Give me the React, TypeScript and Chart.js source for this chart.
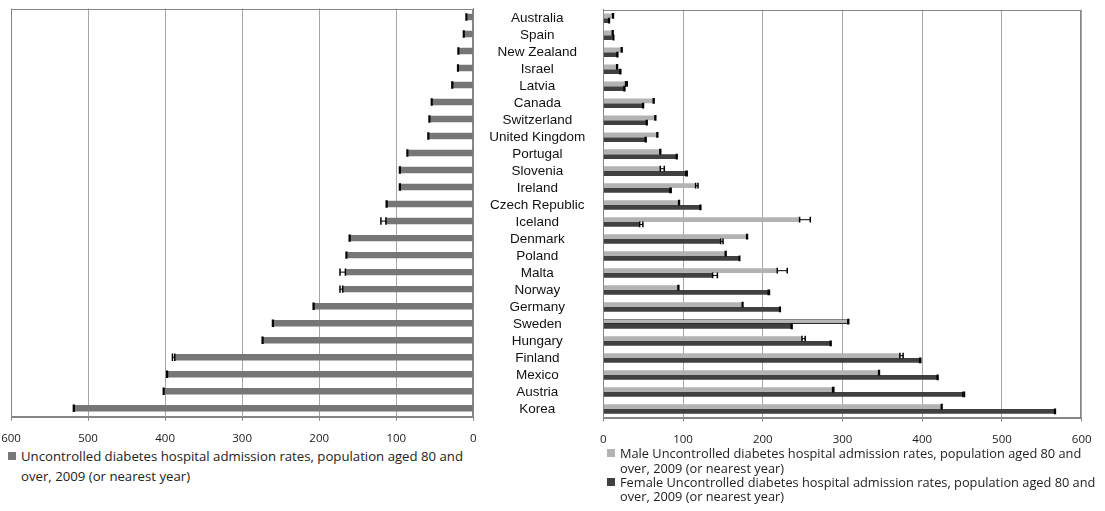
import React, { useEffect, useRef } from "react";
import { Chart, registerables } from "chart.js";

Chart.register(...registerables);

// Countries, top to bottom
const countries = [
  "Australia", "Spain", "New Zealand", "Israel", "Latvia", "Canada", "Switzerland",
  "United Kingdom", "Portugal", "Slovenia", "Ireland", "Czech Republic", "Iceland",
  "Denmark", "Poland", "Malta", "Norway", "Germany", "Sweden", "Hungary", "Finland",
  "Mexico", "Austria", "Korea",
];

// Admission rates per 100 000 population aged 80 and over
const totalRates = [
  8.6, 12, 19, 19.5, 26.8, 53.6, 56.6, 58, 85.2, 94.8, 94.8, 112, 113.4,
  160, 164.3, 166, 169.5, 206.8, 259.6, 273, 387.5, 397, 401.5, 518,
];
const totalErr = [
  0.8, 0.8, 0.8, 0.8, 1, 0.8, 0.8, 0.8, 0.8, 1, 1, 1, 6.5,
  1, 0.8, 7, 3.5, 1, 1, 1, 3, 1, 0.8, 1,
];

const maleRates = [
  11.7, 11.3, 22.6, 16.8, 28, 62.7, 64.8, 67.3, 71, 71.5, 115.8, 94.5, 246.2,
  179.8, 153, 218.2, 93.7, 174.3, 306.8, 249.2, 372, 345.3, 287.6, 423.9,
];
const maleErr = [
  1, 1, 1, 1, 2, 1, 1, 1, 1, 5, 3, 1, 13.4,
  1, 1, 12.5, 1, 0.8, 1, 4, 4, 1, 1.5, 1,
];

const femaleRates = [
  6.7, 12.6, 17.2, 20.9, 26, 49.4, 54, 52.7, 91.6, 103.7, 83.6, 121.3, 45.6,
  147.2, 170.6, 137.1, 206.9, 221.2, 235.8, 284.7, 396.7, 418.8, 451, 566,
];
const femaleErr = [
  1, 0.5, 1, 1, 1, 1, 1, 1, 1, 1.5, 1.5, 1, 4,
  3, 0.5, 6, 1.5, 0.8, 1, 1, 1.5, 1, 2, 1,
];

const axisMin = 0;
const axisMax = 600;
const axisStep = 100;

const legendLines = {
  total: ["Uncontrolled diabetes hospital admission rates, population aged 80 and", "over, 2009 (or nearest year)"],
  male: ["Male Uncontrolled diabetes hospital admission rates, population aged 80 and", "over, 2009 (or nearest year)"],
  female: ["Female Uncontrolled diabetes hospital admission rates, population aged 80 and", "over, 2009 (or nearest year)"],
};

const GRID = "#a6a6a6";
const AXIS = "#868686";
const TOTAL_COLOR = "#767676";
const MALE_COLOR = "#b3b3b3";
const FEMALE_COLOR = "#404040";
const TICK_FONT = { family: "'Open Sans'", size: 11.5 };
const LEGEND_FONT = "'Open Sans', sans-serif";

// Plus-direction error bars drawn from each dataset's errPlus array
const errorBarPlugin = {
  id: "errorBars",
  afterDatasetsDraw(chart: any) {
    const ctx = chart.ctx;
    const xScale = chart.scales.x;
    chart.data.datasets.forEach((ds: any, di: number) => {
      const errs: number[] | undefined = ds.errPlus;
      if (!errs) return;
      const meta = chart.getDatasetMeta(di);
      meta.data.forEach((bar: any, i: number) => {
        const v = ds.data[i] as number;
        const x0 = xScale.getPixelForValue(v);
        const x1 = xScale.getPixelForValue(v + errs[i]);
        const y = bar.y;
        const h = bar.height / 2 + 0.5;
        ctx.save();
        ctx.strokeStyle = "#000";
        ctx.lineWidth = 1;
        ctx.beginPath();
        ctx.moveTo(x0, y);
        ctx.lineTo(x1, y);
        ctx.stroke();
        ctx.lineWidth = 1.5;
        ctx.beginPath();
        ctx.moveTo(x0, y - h);
        ctx.lineTo(x0, y + h);
        ctx.moveTo(x1, y - h);
        ctx.lineTo(x1, y + h);
        ctx.stroke();
        ctx.restore();
      });
    });
  },
};

// Outline around the plot area
const framePlugin = {
  id: "frame",
  beforeDatasetsDraw(chart: any) {
    const { left, right, top, bottom } = chart.chartArea;
    const ctx = chart.ctx;
    ctx.save();
    ctx.strokeStyle = AXIS;
    ctx.lineWidth = 1;
    ctx.strokeRect(Math.round(left) + 0.5, Math.round(top) + 0.5, Math.round(right - left) - 1, Math.round(bottom - top));
    ctx.restore();
  },
};

const LEFT_W = 480;
const RIGHT_W = 625;
const CANVAS_H = 446;

const noScalePadding = (s: any) => {
  s.paddingLeft = 0;
  s.paddingRight = 0;
  s.paddingTop = 0;
  s.paddingBottom = 0;
};

export default function App() {
  const leftRef = useRef<HTMLCanvasElement>(null);
  const rightRef = useRef<HTMLCanvasElement>(null);

  useEffect(() => {
    const xAxis = (reverse: boolean, bottom: number) => ({
      type: "linear" as const,
      reverse,
      min: axisMin,
      max: axisMax,
      ticks: { stepSize: axisStep, font: TICK_FONT, color: "#1a1a1a", padding: 11 },
      grid: { color: GRID, tickColor: AXIS, tickLength: 4 },
      border: { color: AXIS },
      afterFit: (s: any) => {
        s.height = CANVAS_H - bottom;
        noScalePadding(s);
      },
    });

    const left = new Chart(leftRef.current!, {
      type: "bar",
      data: {
        labels: countries,
        datasets: [
          {
            label: legendLines.total.join(" "),
            data: totalRates,
            backgroundColor: TOTAL_COLOR,
            categoryPercentage: 1,
            barPercentage: 0.38,
            errPlus: totalErr,
          } as any,
        ],
      },
      options: {
        indexAxis: "y",
        animation: false,
        responsive: false,
        maintainAspectRatio: false,
        layout: { padding: { left: 11, top: 8.5, right: 0, bottom: 0 } },
        plugins: { legend: { display: false }, tooltip: { enabled: false } },
        scales: {
          x: xAxis(true, 416.7),
          y: {
            position: "right",
            ticks: { display: false },
            grid: { display: false },
            border: { color: AXIS },
            afterFit: (s: any) => {
              s.width = LEFT_W - 473.3;
              noScalePadding(s);
            },
          },
        },
      },
      plugins: [framePlugin, errorBarPlugin],
    });

    const right = new Chart(rightRef.current!, {
      type: "bar",
      data: {
        labels: countries,
        datasets: [
          {
            label: legendLines.male.join(" "),
            data: maleRates,
            backgroundColor: MALE_COLOR,
            borderColor: "#2a2a2a",
            borderWidth: countries.map((c) => (c === "Sweden" ? 1 : 0)),
            categoryPercentage: 0.56,
            barPercentage: 1,
            errPlus: maleErr,
          } as any,
          {
            label: legendLines.female.join(" "),
            data: femaleRates,
            backgroundColor: FEMALE_COLOR,
            categoryPercentage: 0.56,
            barPercentage: 1,
            errPlus: femaleErr,
          } as any,
        ],
      },
      options: {
        indexAxis: "y",
        animation: false,
        responsive: false,
        maintainAspectRatio: false,
        layout: { padding: { left: 0, top: 9.7, right: RIGHT_W - 601.7, bottom: 0 } },
        plugins: { legend: { display: false }, tooltip: { enabled: false } },
        scales: {
          x: xAxis(false, 417.5),
          y: {
            position: "left",
            ticks: {
              crossAlign: "center",
              padding: 18,
              color: "#111",
              font: { family: "'Liberation Sans', Arial, sans-serif", size: 13.5 },
              autoSkip: false,
            },
            grid: { display: false, drawTicks: false },
            border: { color: AXIS },
            afterFit: (s: any) => {
              s.width = 123.3;
              noScalePadding(s);
            },
          },
        },
      },
      plugins: [framePlugin, errorBarPlugin],
    });

    return () => {
      left.destroy();
      right.destroy();
    };
  }, []);

  const legendText = (size: number): React.CSSProperties => ({
    position: "absolute",
    fontFamily: LEGEND_FONT,
    fontSize: size,
    color: "#222",
    whiteSpace: "nowrap",
    lineHeight: "16px",
  });
  const marker = (color: string, x: number, y: number): React.CSSProperties => ({
    position: "absolute",
    left: x,
    top: y,
    width: 8,
    height: 8,
    background: color,
  });

  return (
    <div style={{ position: "absolute", left: 0, top: 0, width: 1105, height: 511, background: "#fff", overflow: "hidden" }}>
      <canvas ref={leftRef} width={LEFT_W} height={CANVAS_H} style={{ position: "absolute", left: 0, top: 0 }} />
      <canvas ref={rightRef} width={RIGHT_W} height={CANVAS_H} style={{ position: "absolute", left: LEFT_W, top: 0 }} />

      <span style={marker(TOTAL_COLOR, 8, 452)} />
      <div style={{ ...legendText(13.2), left: 21, top: 448 }}>{legendLines.total[0]}</div>
      <div style={{ ...legendText(13.2), left: 21, top: 468 }}>{legendLines.total[1]}</div>

      <span style={marker(MALE_COLOR, 607, 449)} />
      <div style={{ ...legendText(12.8), left: 620, top: 445 }}>{legendLines.male[0]}</div>
      <div style={{ ...legendText(12.8), left: 620, top: 460 }}>{legendLines.male[1]}</div>
      <span style={marker(FEMALE_COLOR, 607, 478)} />
      <div style={{ ...legendText(12.8), left: 620, top: 474 }}>{legendLines.female[0]}</div>
      <div style={{ ...legendText(12.8), left: 620, top: 488 }}>{legendLines.female[1]}</div>
    </div>
  );
}
